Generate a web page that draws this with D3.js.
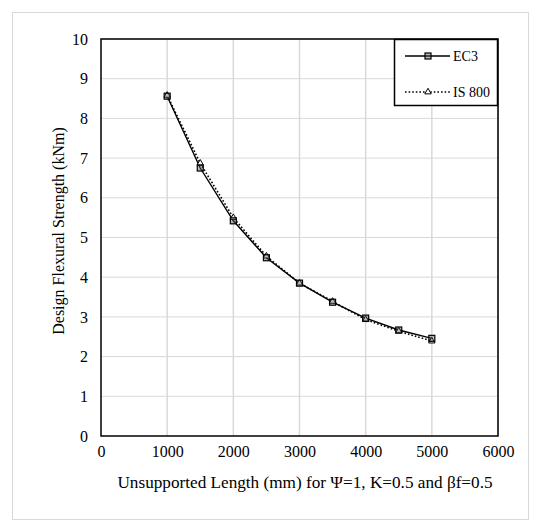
<!DOCTYPE html>
<html>
<head>
<meta charset="utf-8">
<script src="https://cdn.jsdelivr.net/npm/d3@7"></script>
<style>
  body { margin: 0; background: #fff; }
</style>
</head>
<body>
<div id="chart"></div>
<script>
const width = 541
const height = 532
const serif = "'Liberation Serif', 'Times New Roman', Times, serif"

// Dados
const lengths = [1000, 1500, 2000, 2500, 3000, 3500, 4000, 4500, 5000]
const ec3 = [8.56, 6.75, 5.42, 4.49, 3.85, 3.37, 2.97, 2.67, 2.46]
const is800 = [8.58, 6.87, 5.5, 4.53, 3.85, 3.39, 2.93, 2.64, 2.39]
const xTicks = [0, 1000, 2000, 3000, 4000, 5000, 6000]
const yTicks = [0, 1, 2, 3, 4, 5, 6, 7, 8, 9, 10]
const seriesNames = ["EC3", "IS 800"]

const m = { left: 101, right: 498, top: 39, bottom: 436 }

let svg = d3.select("#chart")
  .append("svg")
  .attr("width", width)
  .attr("height", height)
  .attr("font-family", serif)

// Borda externa
svg.append("rect")
  .attr("x", 12.5).attr("y", 12.5)
  .attr("width", 516).attr("height", 507)
  .attr("fill", "#fff")
  .attr("stroke", "#d9d9d9")

const x = d3.scaleLinear().domain([0, 6000]).range([m.left, m.right])
const y = d3.scaleLinear().domain([0, 10]).range([m.bottom, m.top])

// Grade
svg.append("g")
  .selectAll("line")
  .data(yTicks.slice(1))
  .join("line")
  .attr("x1", m.left).attr("x2", m.right)
  .attr("y1", d => y(d)).attr("y2", d => y(d))
  .attr("stroke", "#d9d9d9").attr("stroke-width", 1)

svg.append("g")
  .selectAll("line")
  .data(xTicks.slice(1))
  .join("line")
  .attr("x1", d => x(d)).attr("x2", d => x(d))
  .attr("y1", m.top).attr("y2", m.bottom)
  .attr("stroke", "#d9d9d9").attr("stroke-width", 1.5)

// Eixos
svg.append("g")
  .attr("transform", `translate(0,${m.bottom})`)
  .call(d3.axisBottom(x).tickValues(xTicks).tickSize(0).tickPadding(10).tickFormat(d3.format("d")))
  .attr("font-family", serif)
  .attr("font-size", 16)
  .call(g => g.select(".domain").remove())

svg.append("g")
  .attr("transform", `translate(${m.left},0)`)
  .call(d3.axisLeft(y).tickValues(yTicks).tickSize(0).tickPadding(13))
  .attr("font-family", serif)
  .attr("font-size", 16)
  .call(g => g.select(".domain").remove())

// Moldura do grafico
svg.append("rect")
  .attr("x", m.left).attr("y", m.top)
  .attr("width", m.right - m.left).attr("height", m.bottom - m.top)
  .attr("fill", "none")
  .attr("stroke", "#000").attr("stroke-width", 1.5)

// Titulos
svg.append("text")
  .attr("x", 305).attr("y", 488)
  .attr("text-anchor", "middle")
  .attr("font-size", 17.2)
  .text("Unsupported Length (mm) for \u03A8=1, K=0.5 and \u03B2f=0.5")

svg.append("text")
  .attr("transform", `translate(64,231) rotate(-90)`)
  .attr("text-anchor", "middle")
  .attr("font-size", 16)
  .text("Design Flexural Strength (kNm)")

// Linhas
const line = d3.line()
  .x(d => x(d[0]))
  .y(d => y(d[1]))

const ecData = lengths.map((l, i) => [l, ec3[i]])
const isData = lengths.map((l, i) => [l, is800[i]])

svg.append("path")
  .datum(isData)
  .attr("d", line)
  .attr("fill", "none")
  .attr("stroke", "#000")
  .attr("stroke-width", 1.6)
  .attr("stroke-dasharray", "1.6,2")

svg.append("path")
  .datum(ecData)
  .attr("d", line)
  .attr("fill", "none")
  .attr("stroke", "#000")
  .attr("stroke-width", 1.4)

const tri = d3.symbol().type(d3.symbolTriangle).size(18)

svg.append("g")
  .selectAll("path")
  .data(isData)
  .join("path")
  .attr("d", tri)
  .attr("transform", d => `translate(${x(d[0])},${y(d[1])})`)
  .attr("fill", "#fff").attr("stroke", "#000").attr("stroke-width", 1)

svg.append("g")
  .selectAll("rect")
  .data(ecData)
  .join("rect")
  .attr("x", d => x(d[0]) - 3).attr("y", d => y(d[1]) - 3)
  .attr("width", 6).attr("height", 6)
  .attr("fill", "#555").attr("fill-opacity", 0.4)
  .attr("stroke", "#000").attr("stroke-width", 1.2)

// Legenda
const lg = svg.append("g")
lg.append("rect")
  .attr("x", 394.5).attr("y", 39.5)
  .attr("width", 103).attr("height", 66)
  .attr("fill", "#fff")
  .attr("stroke", "#000").attr("stroke-width", 1.5)

const ly = [56, 92]
seriesNames.forEach((name, i) => {
  lg.append("line")
    .attr("x1", 405).attr("x2", 450)
    .attr("y1", ly[i]).attr("y2", ly[i])
    .attr("stroke", "#000")
    .attr("stroke-width", i == 0 ? 1.4 : 1.6)
    .attr("stroke-dasharray", i == 0 ? null : "1.6,2")
  if (i == 0) {
    lg.append("rect")
      .attr("x", 425).attr("y", ly[i] - 3)
      .attr("width", 6).attr("height", 6)
      .attr("fill", "#555").attr("fill-opacity", 0.4)
      .attr("stroke", "#000").attr("stroke-width", 1.2)
  } else {
    lg.append("path")
      .attr("d", tri)
      .attr("transform", `translate(428,${ly[i]})`)
      .attr("fill", "#fff").attr("stroke", "#000")
  }
  lg.append("text")
    .attr("x", 453).attr("y", ly[i] + 5)
    .attr("font-size", 14)
    .text(name)
})
</script>
</body>
</html>
